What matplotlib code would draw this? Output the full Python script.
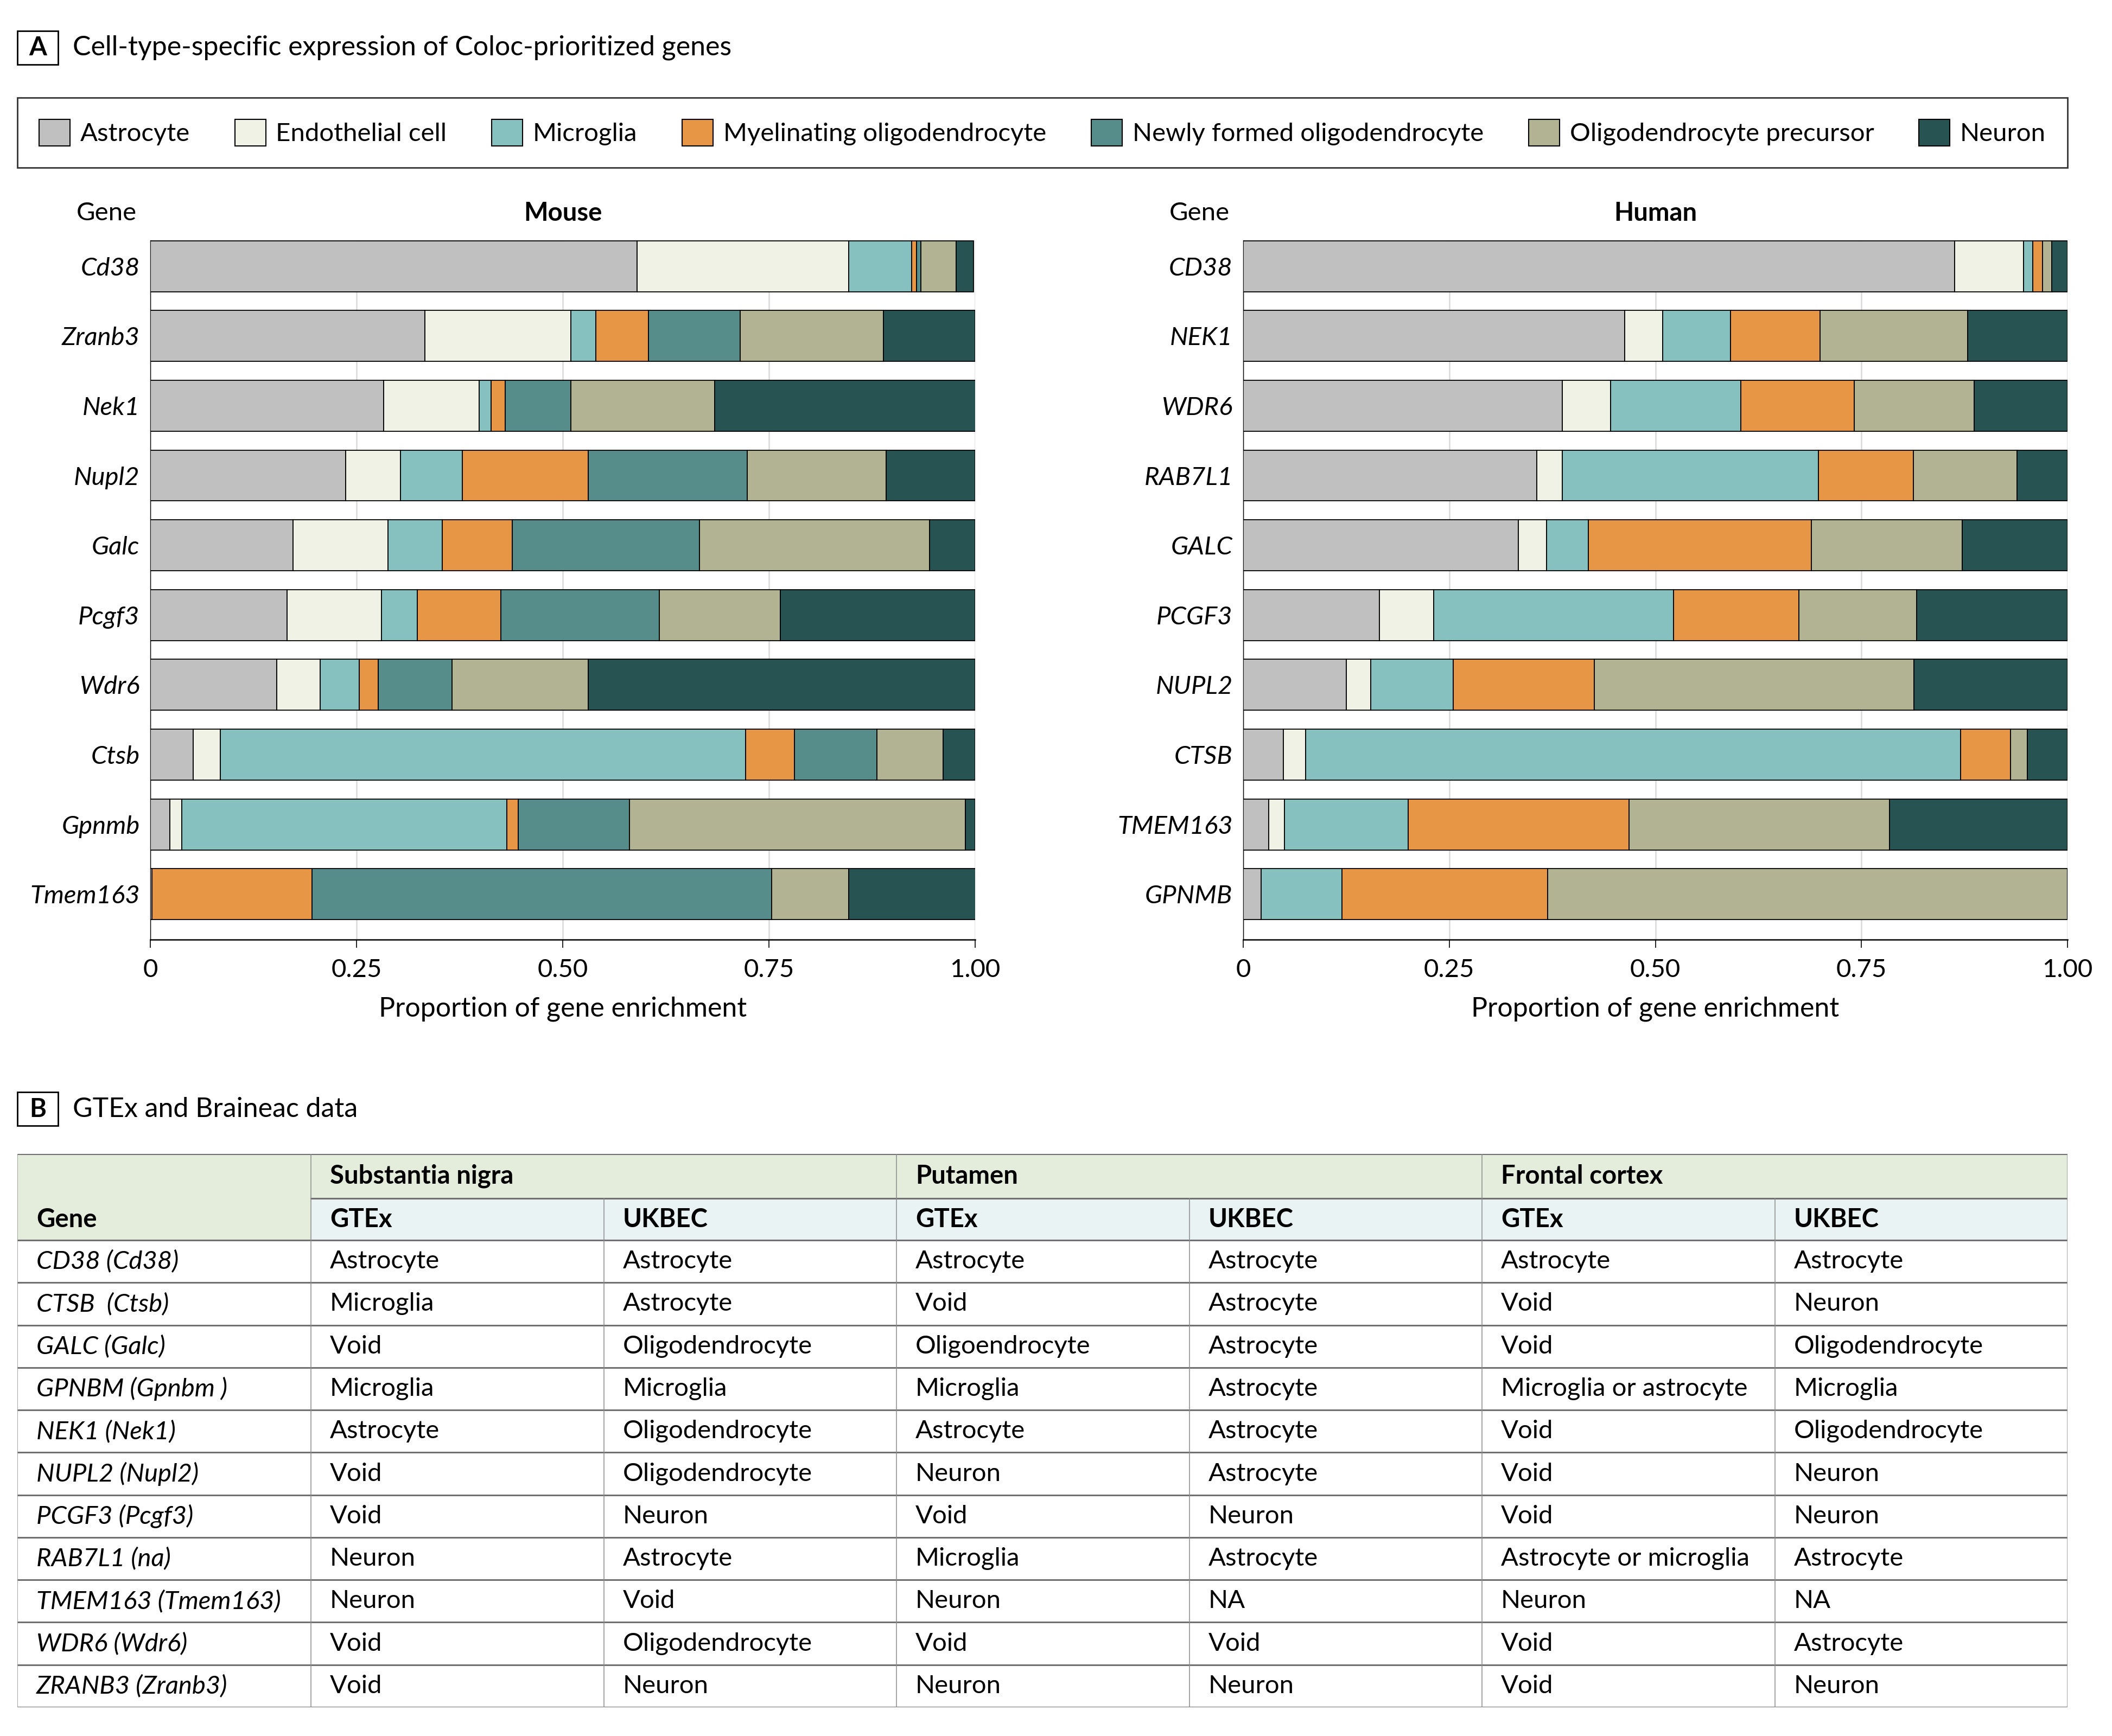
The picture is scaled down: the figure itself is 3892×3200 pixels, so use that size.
import matplotlib
matplotlib.use("Agg")
import matplotlib.pyplot as plt
from matplotlib.patches import Rectangle, Patch
from matplotlib import font_manager
import numpy as np

# ---------------- data ----------------
cell_types = ["Astrocyte", "Endothelial cell", "Microglia", "Myelinating oligodendrocyte",
              "Newly formed oligodendrocyte", "Oligodendrocyte precursor", "Neuron"]
colors = ["#C0C0C0", "#F0F2E6", "#86C1C0", "#E69645", "#568D8B", "#B2B393", "#285353"]

mouse_genes = ["Cd38", "Zranb3", "Nek1", "Nupl2", "Galc", "Pcgf3", "Wdr6", "Ctsb", "Gpnmb", "Tmem163"]
mouse_astro = [0.590, 0.333, 0.283, 0.237, 0.173, 0.166, 0.153, 0.052, 0.024, 0.002]
mouse_endo = [0.257, 0.177, 0.116, 0.066, 0.115, 0.114, 0.053, 0.033, 0.014, 0.000]
mouse_micro = [0.076, 0.030, 0.014, 0.075, 0.066, 0.044, 0.047, 0.637, 0.394, 0.000]
mouse_myel = [0.006, 0.064, 0.017, 0.153, 0.085, 0.101, 0.023, 0.059, 0.014, 0.194]
mouse_nfo = [0.005, 0.111, 0.080, 0.193, 0.227, 0.192, 0.090, 0.100, 0.135, 0.557]
mouse_opc = [0.043, 0.174, 0.174, 0.168, 0.279, 0.147, 0.165, 0.080, 0.407, 0.094]
mouse_neuron = [0.021, 0.111, 0.317, 0.108, 0.055, 0.236, 0.469, 0.039, 0.012, 0.154]

human_genes = ["CD38", "NEK1", "WDR6", "RAB7L1", "GALC", "PCGF3", "NUPL2", "CTSB", "TMEM163", "GPNMB"]
human_astro = [0.863, 0.463, 0.387, 0.356, 0.334, 0.165, 0.125, 0.049, 0.031, 0.022]
human_endo = [0.084, 0.046, 0.059, 0.031, 0.034, 0.066, 0.030, 0.027, 0.019, 0.000]
human_micro = [0.011, 0.082, 0.158, 0.311, 0.051, 0.291, 0.100, 0.794, 0.150, 0.098]
human_myel = [0.012, 0.109, 0.137, 0.115, 0.270, 0.152, 0.171, 0.061, 0.268, 0.249]
human_nfo = [0.0, 0.0, 0.0, 0.0, 0.0, 0.0, 0.0, 0.0, 0.0, 0.0]
human_opc = [0.011, 0.179, 0.146, 0.126, 0.183, 0.143, 0.388, 0.020, 0.316, 0.631]
human_neuron = [0.019, 0.121, 0.113, 0.061, 0.128, 0.183, 0.186, 0.049, 0.216, 0.000]

x_ticks = [0, 0.25, 0.50, 0.75, 1.00]
x_ticklabels = ["0", "0.25", "0.50", "0.75", "1.00"]

table_genes = ["CD38 (Cd38)", "CTSB  (Ctsb)", "GALC (Galc)", "GPNBM (Gpnbm )", "NEK1 (Nek1)",
               "NUPL2 (Nupl2)", "PCGF3 (Pcgf3)", "RAB7L1 (na)", "TMEM163 (Tmem163)",
               "WDR6 (Wdr6)", "ZRANB3 (Zranb3)"]
sn_gtex = ["Astrocyte", "Microglia", "Void", "Microglia", "Astrocyte", "Void", "Void",
           "Neuron", "Neuron", "Void", "Void"]
sn_ukbec = ["Astrocyte", "Astrocyte", "Oligodendrocyte", "Microglia", "Oligodendrocyte",
            "Oligodendrocyte", "Neuron", "Astrocyte", "Void", "Oligodendrocyte", "Neuron"]
put_gtex = ["Astrocyte", "Void", "Oligoendrocyte", "Microglia", "Astrocyte", "Neuron", "Void",
            "Microglia", "Neuron", "Void", "Neuron"]
put_ukbec = ["Astrocyte", "Astrocyte", "Astrocyte", "Astrocyte", "Astrocyte", "Astrocyte",
             "Neuron", "Astrocyte", "NA", "Void", "Neuron"]
fc_gtex = ["Astrocyte", "Void", "Void", "Microglia or astrocyte", "Void", "Void", "Void",
           "Astrocyte or microglia", "Neuron", "Void", "Void"]
fc_ukbec = ["Astrocyte", "Neuron", "Oligodendrocyte", "Microglia", "Oligodendrocyte", "Neuron",
            "Neuron", "Astrocyte", "NA", "Astrocyte", "Neuron"]
regions = ["Substantia nigra", "Putamen", "Frontal cortex"]
sources = ["GTEx", "UKBEC"]

# ---------------- fonts ----------------
available = {f.name for f in font_manager.fontManager.ttflist}
fam = next((f for f in ["Lato", "Open Sans", "Noto Sans", "DejaVu Sans"] if f in available), "DejaVu Sans")
plt.rcParams["font.family"] = [fam, "DejaVu Sans"]
FS = 34
TFS = 36

W, H = 3892, 3200
fig = plt.figure(figsize=(W / 100, H / 100), dpi=100)
fig.patch.set_facecolor("white")


def fx(px):
    return px / W


def fy(py):
    return 1 - py / H


# ---------------- panel A header ----------------
fig.add_artist(Rectangle((fx(32), fy(119)), fx(75), 62 / H, transform=fig.transFigure,
                         fill=False, ec="black", lw=2))
fig.text(fx(69.5), fy(88), "A", ha="center", va="center", fontsize=FS, fontweight="bold")
fig.text(fx(134), fy(88), "Cell-type-specific expression of Coloc-prioritized genes",
         ha="left", va="center", fontsize=TFS)

handles = [Patch(facecolor=c, edgecolor="black", linewidth=1.5, label=l)
           for c, l in zip(colors, cell_types)]
leg = fig.legend(handles=handles, ncol=7, loc="center",
                 bbox_to_anchor=(fx(32), fy(315), (3810 - 32) / W, (315 - 174) / H),
                 mode="expand", fontsize=FS, frameon=True, fancybox=False,
                 edgecolor="black", borderpad=0.85, handlelength=1.2, handleheight=1.2,
                 handletextpad=0.4, borderaxespad=0)
leg.get_frame().set_linewidth(2)


def draw_panel(left_px, right_px, genes, series):
    ax = fig.add_axes([fx(left_px), fy(1732), (right_px - left_px) / W, (1732 - 443) / H])
    y = np.arange(len(genes))
    left = np.zeros(len(genes))
    for vals, col in zip(series, colors):
        vals = np.array(vals)
        ax.barh(y, vals, left=left, height=0.73, color=col, edgecolor="black",
                linewidth=1.3, zorder=3)
        left = left + vals
    ax.set_xlim(0, 1)
    ax.set_ylim(len(genes) - 0.35, -0.37)
    ax.set_yticks(y)
    ax.set_yticklabels(genes, fontstyle="italic", fontsize=FS)
    ax.tick_params(axis="y", length=0, pad=14)
    ax.set_xticks(x_ticks)
    ax.set_xticklabels(x_ticklabels, fontsize=FS)
    ax.tick_params(axis="x", length=11, width=1.2, pad=14, color="black")
    ax.grid(axis="x", color="#D9D9D9", linewidth=1.8, zorder=0)
    ax.set_axisbelow(True)
    for s in ["top", "right"]:
        ax.spines[s].set_visible(False)
    ax.spines["bottom"].set_linewidth(1.8)
    ax.spines["left"].set_linewidth(1.0)
    ax.set_xlabel("Proportion of gene enrichment", fontsize=FS + 2, labelpad=20)
    return ax


axm = draw_panel(277, 1797, mouse_genes,
                 [mouse_astro, mouse_endo, mouse_micro, mouse_myel, mouse_nfo, mouse_opc, mouse_neuron])
axh = draw_panel(2291, 3810, human_genes,
                 [human_astro, human_endo, human_micro, human_myel, human_nfo, human_opc, human_neuron])
for title, lpx, rpx in [("Mouse", 277, 1797), ("Human", 2291, 3810)]:
    fig.text(fx((lpx + rpx) / 2), fy(393), title, ha="center", va="center",
             fontsize=FS, fontweight="bold")
    fig.text(fx(lpx - 25), fy(393), "Gene", ha="right", va="center", fontsize=FS)

# ---------------- panel B ----------------
fig.add_artist(Rectangle((fx(32), fy(2075)), fx(75), 62 / H, transform=fig.transFigure,
                         fill=False, ec="black", lw=2))
fig.text(fx(69.5), fy(2045), "B", ha="center", va="center", fontsize=FS, fontweight="bold")
fig.text(fx(134), fy(2045), "GTEx and Braineac data", ha="left", va="center", fontsize=TFS)

TW, TH = 3778, 1020
tab = fig.add_axes([fx(32), fy(3147), TW / W, TH / H])
tab.set_xlim(0, TW)
tab.set_ylim(TH, 0)
tab.axis("off")

gene_w = 541
col_w = (TW - gene_w) / 6
h1, h2 = 82, 77
n = len(table_genes)
row_h = (TH - h1 - h2) / n
green = "#E4ECDC"
blue = "#E9F3F4"
line_dark = "#707070"
line_light = "#8C8C8C"
pad = 35

tab.add_patch(Rectangle((0, 0), TW, h1, facecolor=green, edgecolor="none"))
tab.add_patch(Rectangle((0, h1), gene_w, h2, facecolor=green, edgecolor="none"))
tab.add_patch(Rectangle((gene_w, h1), TW - gene_w, h2, facecolor=blue, edgecolor="none"))

tab.plot([0, TW], [0, 0], color=line_dark, lw=2.2)
tab.plot([gene_w, TW], [h1, h1], color=line_dark, lw=2.2)
for i in range(n + 1):
    yy = h1 + h2 + i * row_h
    tab.plot([0, TW], [yy, yy], color=line_dark, lw=2.2)
for xx in [0, gene_w, gene_w + 2 * col_w, gene_w + 4 * col_w, TW]:
    tab.plot([xx, xx], [0, TH], color=line_light, lw=1.1)
for k in [1, 3, 5]:
    xx = gene_w + k * col_w
    tab.plot([xx, xx], [h1, TH], color=line_light, lw=1.1)

for k, r in enumerate(regions):
    tab.text(gene_w + 2 * k * col_w + pad, h1 / 2, r, ha="left", va="center",
             fontsize=FS, fontweight="bold")
tab.text(pad, h1 + h2 / 2, "Gene", ha="left", va="center", fontsize=FS, fontweight="bold")
for k in range(6):
    tab.text(gene_w + k * col_w + pad, h1 + h2 / 2, sources[k % 2], ha="left", va="center",
             fontsize=FS, fontweight="bold")

columns = [sn_gtex, sn_ukbec, put_gtex, put_ukbec, fc_gtex, fc_ukbec]
for i in range(n):
    yc = h1 + h2 + (i + 0.5) * row_h
    tab.text(pad, yc, table_genes[i], ha="left", va="center", fontsize=FS, fontstyle="italic")
    for k, col in enumerate(columns):
        tab.text(gene_w + k * col_w + pad, yc, col[i], ha="left", va="center", fontsize=FS)

fig.savefig("out.png", dpi=100, facecolor="white")
